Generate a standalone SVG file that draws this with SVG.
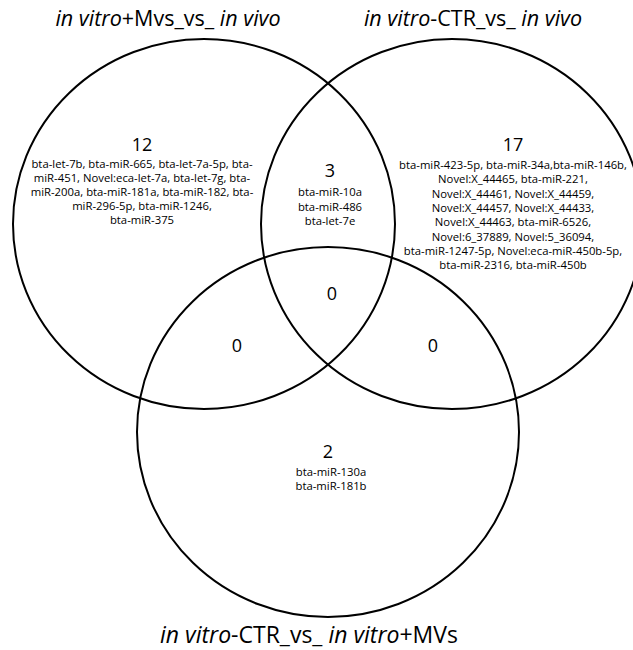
<svg xmlns="http://www.w3.org/2000/svg" width="633" height="650" viewBox="0 0 633 650">
<style>
.set{fill:none;stroke:#000;stroke-width:2}
.t{font-family:"Open Sans","Liberation Sans",sans-serif;fill:#000;text-anchor:middle}
.title{font-size:21.5px}
.num{font-size:18px}
.lst{font-size:11.3px}
</style>
<rect width="633" height="650" fill="#fff"/>
<g id="sets">
<ellipse id="setA" class="set" cx="204" cy="224" rx="191" ry="185"/>
<ellipse id="setB" class="set" cx="452" cy="224" rx="191" ry="185"/>
<ellipse id="setC" class="set" cx="328" cy="432" rx="191" ry="185"/>
</g>
<g id="titles" class="t title">
<text x="168" y="26"><tspan font-style="italic">in vitro</tspan>+Mvs_vs_ <tspan font-style="italic">in vivo</tspan></text>
<text x="473" y="26"><tspan font-style="italic">in vitro</tspan>-CTR_vs_ <tspan font-style="italic">in vivo</tspan></text>
<text x="309" y="643" font-size="23px"><tspan font-style="italic">in vitro</tspan>-CTR_vs_ <tspan font-style="italic">in vitro</tspan>+MVs</text>
</g>
<g id="onlyA" class="t">
<text class="num" x="142" y="151">12</text>
<text class="lst" x="142" y="168">bta-let-7b, bta-miR-665, bta-let-7a-5p, bta-</text>
<text class="lst" x="142" y="182">miR-451, Novel:eca-let-7a, bta-let-7g, bta-</text>
<text class="lst" x="142" y="196">miR-200a, bta-miR-181a, bta-miR-182, bta-</text>
<text class="lst" x="142" y="210">miR-296-5p, bta-miR-1246,</text>
<text class="lst" x="142" y="224">bta-miR-375</text>
</g>
<g id="onlyB" class="t">
<text class="num" x="513" y="151">17</text>
<text class="lst" x="513" y="169">bta-miR-423-5p, bta-miR-34a,bta-miR-146b,</text>
<text class="lst" x="513" y="183.3">Novel:X_44465, bta-miR-221,</text>
<text class="lst" x="513" y="197.6">Novel:X_44461, Novel:X_44459,</text>
<text class="lst" x="513" y="211.9">Novel:X_44457, Novel:X_44433,</text>
<text class="lst" x="513" y="226.2">Novel:X_44463, bta-miR-6526,</text>
<text class="lst" x="513" y="240.5">Novel:6_37889, Novel:5_36094,</text>
<text class="lst" x="513" y="254.8">bta-miR-1247-5p, Novel:eca-miR-450b-5p,</text>
<text class="lst" x="513" y="269.1">bta-miR-2316, bta-miR-450b</text>
</g>
<g id="AB" class="t">
<text class="num" x="330" y="177">3</text>
<text class="lst" x="330" y="196">bta-miR-10a</text>
<text class="lst" x="330" y="210.5">bta-miR-486</text>
<text class="lst" x="330" y="225">bta-let-7e</text>
</g>
<g id="ABC" class="t"><text class="num" x="332" y="300">0</text></g>
<g id="AC" class="t"><text class="num" x="237" y="352">0</text></g>
<g id="BC" class="t"><text class="num" x="433" y="352">0</text></g>
<g id="onlyC" class="t">
<text class="num" x="328" y="458">2</text>
<text class="lst" x="331" y="476">bta-miR-130a</text>
<text class="lst" x="331" y="490">bta-miR-181b</text>
</g>
</svg>
